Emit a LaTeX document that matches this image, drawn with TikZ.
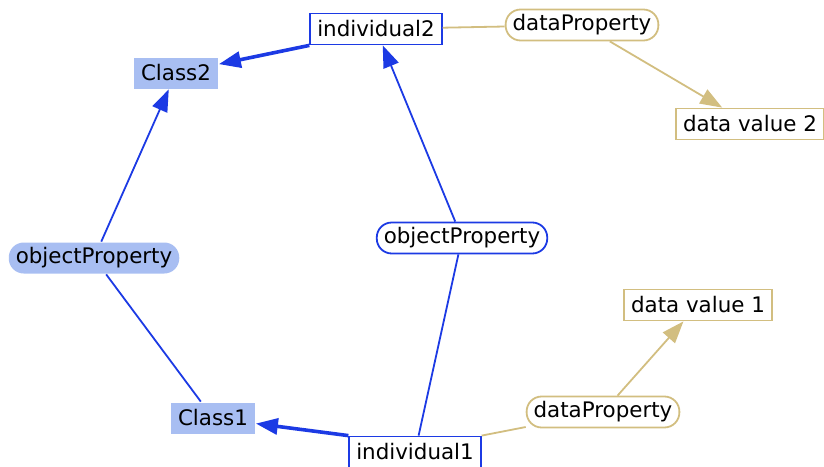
\documentclass[tikz,border=0pt]{standalone}
\usepackage{fontspec}
\setmainfont{DejaVu Sans}
\usetikzlibrary{arrows.meta}

\definecolor{objblue}{RGB}{28,58,228}
\definecolor{clsfill}{RGB}{168,190,242}
\definecolor{datatan}{RGB}{210,190,128}

\begin{document}
\begin{tikzpicture}[x=0.5pt, y=-0.5pt]
\useasboundingbox (0,0) rectangle (824,466);
\begin{scope}
	\tikzstyle{every node}=[font=\fontsize{10.7}{12}\selectfont, minimum height=15.5pt, inner xsep=3.5pt, inner ysep=0pt, line width=0.9pt]
	\tikzstyle{indiv}=[draw=objblue, fill=white]
	\tikzstyle{cls}=[fill=clsfill]
	\tikzstyle{objprop}=[rounded corners=7.5pt]
	\tikzstyle{dataprop}=[draw=datatan, rounded corners=7.5pt]
	\tikzstyle{dataval}=[draw=datatan, fill=white]
	\tikzstyle{tip}=[-{Triangle[length=11pt, width=8pt]}]

	\node[cls] (c2) at (176, 73) {Class2};
	\node[cls] (c1) at (213, 418) {Class1};
	\node[indiv] (i2) at (376, 29) {individual2};
	\node[indiv] (i1) at (415, 452) {individual1};
	\node[objprop, fill=clsfill] (op1) at (94, 258) {objectProperty};
	\node[objprop, draw=objblue, fill=white] (op2) at (462, 238) {objectProperty};

	\node[dataprop] (dp2) at (582, 25) {dataProperty};
	\node[dataprop] (dp1) at (603, 412) {dataProperty};
	\node[dataval] (dv2) at (750, 124) {data value 2};
	\node[dataval] (dv1) at (698, 305) {data value 1};

	\draw [objblue, line width=1.8pt][tip] (i2.south west) -- (c2);
	\draw [objblue, line width=1.8pt][tip] (i1.north west) -- (c1);
	\draw [objblue, line width=0.9pt] (c1) -- (op1);
	\draw [objblue, line width=0.9pt][tip] (op1) -- (c2);
	\draw [objblue, line width=0.9pt] (i1) -- (op2);
	\draw [objblue, line width=0.9pt][tip] (op2) -- (i2);

	\draw [datatan, line width=0.9pt] (i2) -- (dp2);
	\draw [datatan, line width=0.9pt][tip] (dp2) -- (dv2);
	\draw [datatan, line width=0.9pt] (i1.north east) -- (dp1);
	\draw [datatan, line width=0.9pt][tip] (dp1) -- (dv1);
\end{scope}
\end{tikzpicture}
\end{document}
